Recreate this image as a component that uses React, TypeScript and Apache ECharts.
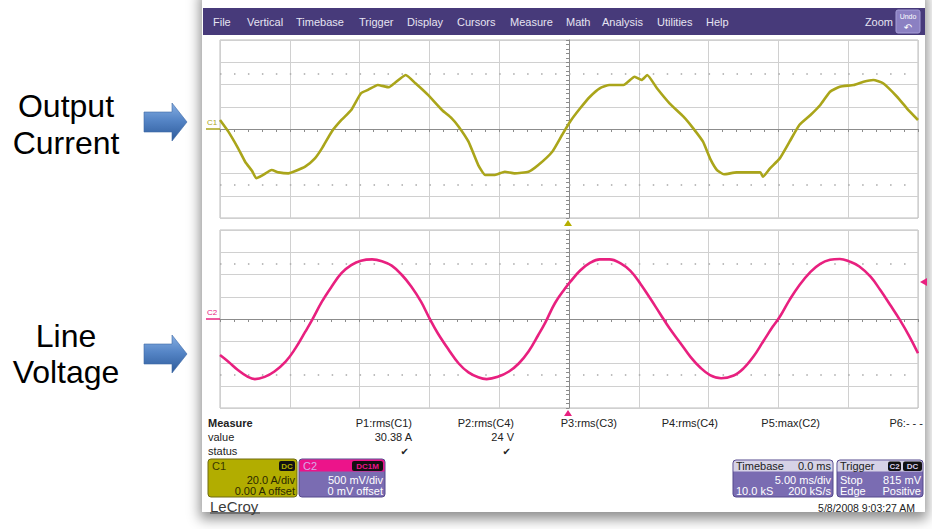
import React, { useEffect, useRef } from "react";
import * as echarts from "echarts";

// ---- data (time in ms, current in A, voltage in V) ----
const currentTime = [-25.0, -24.4, -23.7, -23.2, -22.7, -22.4, -22.0, -21.3, -20.8, -20.1, -19.6, -18.9, -18.2, -17.7, -17.0, -16.3, -15.6, -14.9, -14.4, -13.7, -12.9, -12.5, -11.7, -11.0, -10.1, -9.1, -8.4, -7.9, -7.2, -6.5, -6.0, -5.3, -4.6, -3.9, -2.9, -2.2, -1.2, -0.5, 0.1, 0.8, 1.5, 2.2, 2.9, 3.9, 4.7, 5.2, 5.6, 6.3, 7.2, 8.2, 8.9, 9.6, 10.1, 10.6, 11.1, 12.0, 13.0, 13.7, 13.9, 14.4, 15.1, 15.8, 16.5, 17.3, 18.0, 18.7, 19.4, 20.4, 21.1, 21.8, 22.5, 23.5, 24.2, 25.0];
const currentAmps = [8.1, -2.4, -17.4, -29.4, -37.8, -44.3, -42.0, -36.9, -39.0, -39.9, -37.8, -33.9, -26.4, -17.4, -2.4, 8.1, 17.1, 32.1, 35.1, 39.6, 37.5, 41.1, 48.5, 41.1, 30.6, 17.1, 9.6, 2.1, -11.4, -32.4, -41.3, -41.3, -38.4, -39.9, -38.4, -32.4, -20.4, -5.4, 7.0, 18.6, 29.0, 36.6, 39.6, 39.6, 47.0, 44.0, 48.5, 36.6, 23.1, 11.1, 0.6, -11.4, -26.4, -36.9, -40.7, -39.0, -39.0, -39.0, -42.9, -35.4, -26.4, -11.4, 3.6, 12.6, 21.6, 33.5, 38.0, 39.6, 42.5, 44.0, 41.1, 29.0, 18.6, 8.1];

const voltageTime = [-25.0, -24.4, -23.7, -23.0, -22.5, -21.8, -21.1, -20.3, -19.6, -18.9, -18.4, -17.7, -17.0, -16.3, -15.6, -14.9, -14.1, -13.4, -12.7, -12.0, -11.3, -10.6, -10.0, -9.4, -8.6, -7.9, -7.2, -6.5, -5.9, -5.1, -4.3, -3.6, -2.9, -2.2, -1.7, -1.0, -0.3, 0.1, 0.8, 1.5, 2.2, 2.9, 3.7, 4.4, 5.1, 5.8, 6.5, 7.2, 8.0, 8.7, 9.4, 10.1, 10.9, 11.8, 12.5, 13.2, 13.9, 14.6, 15.1, 15.8, 16.5, 17.3, 18.0, 18.7, 19.4, 20.1, 20.8, 21.6, 22.3, 23.0, 23.7, 24.4, 25.0];
const voltageVolts = [-0.81, -0.96, -1.15, -1.30, -1.35, -1.30, -1.18, -0.96, -0.66, -0.29, -0.02, 0.39, 0.73, 1.03, 1.21, 1.31, 1.34, 1.30, 1.20, 1.00, 0.73, 0.39, 0.02, -0.32, -0.70, -1.00, -1.20, -1.31, -1.35, -1.30, -1.18, -1.00, -0.73, -0.36, -0.08, 0.36, 0.68, 0.84, 1.09, 1.26, 1.34, 1.34, 1.25, 1.08, 0.80, 0.47, 0.13, -0.21, -0.55, -0.85, -1.09, -1.26, -1.33, -1.27, -1.11, -0.85, -0.51, -0.17, 0.05, 0.43, 0.76, 1.06, 1.24, 1.33, 1.35, 1.29, 1.18, 0.95, 0.65, 0.32, -0.02, -0.40, -0.77];

// axis scales (per division)
const timeRange = [-25, 25];
const timeDiv = 5;
const currentRange = [-80, 80];
const currentDiv = 20;
const voltageRange = [-2, 2];
const voltageDiv = 0.5;

// texts
const menuItems = ["File", "Vertical", "Timebase", "Trigger", "Display", "Cursors", "Measure", "Math", "Analysis", "Utilities", "Help"];
const measureHeaders = ["P1:rms(C1)", "P2:rms(C4)", "P3:rms(C3)", "P4:rms(C4)", "P5:max(C2)", "P6:- - -"];
const measureValues = ["30.38 A", "24 V", "", "", "", ""];
const measureStatus = [true, true, false, false, false, false];

const FONT = '"Liberation Sans", Arial, Helvetica, sans-serif';
const YEL = "#aaa51a";
const PINK = "#e8207f";
const PURPLE = "#7a6cb2";

function txt(x: number, y: number, text: string, opts: any = {}) {
  const align = opts.align || "left";
  return {
    type: "text",
    x,
    y,
    z: 50,
    silent: true,
    style: {
      text,
      fill: opts.fill || "#222",
      fontSize: opts.size || 11,
      fontFamily: opts.family || FONT,
      fontWeight: opts.weight || "normal",
      align,
      textAlign: align,
      verticalAlign: "middle",
      textVerticalAlign: "middle",
    },
  };
}
function rect(x: number, y: number, w: number, h: number, style: any, r: any = 0) {
  return { type: "rect", z: 40, silent: true, shape: { x, y, width: w, height: h, r }, style };
}

function buildGraphics() {
  const els: any[] = [];
  // left labels
  els.push(txt(66, 106, "Output", { size: 32, align: "center", fill: "#000" }));
  els.push(txt(66, 143, "Current", { size: 32, align: "center", fill: "#000" }));
  els.push(txt(66, 336, "Line", { size: 32, align: "center", fill: "#000" }));
  els.push(txt(66, 372, "Voltage", { size: 32, align: "center", fill: "#000" }));
  const arrowFill = {
    type: "linear", x: 0, y: 0, x2: 0, y2: 1,
    colorStops: [
      { offset: 0, color: "#86aee2" },
      { offset: 0.45, color: "#5585c6" },
      { offset: 1, color: "#2d5a9a" },
    ],
  };
  [122, 354].forEach((cy) => {
    els.push({
      type: "polygon", z: 40, silent: true,
      shape: { points: [[144, cy - 10], [172, cy - 10], [172, cy - 19], [187, cy], [172, cy + 19], [172, cy + 10], [144, cy + 10]] },
      style: { fill: arrowFill, stroke: "#3d68a6", lineWidth: 0.6 },
    });
  });

  // menu bar
  els.push(rect(203, 8, 722, 27, { fill: "#473a7a" }));
  const menuX = [213, 247, 296, 359, 407, 457, 510, 566, 602, 657, 706];
  menuItems.forEach((m, i) => els.push(txt(menuX[i], 22, m, { fill: "#e6e4f2" })));
  els.push(txt(893, 22, "Zoom", { fill: "#e6e4f2", align: "right" }));
  els.push(rect(896, 10, 24, 23, { fill: "#8b80c2", stroke: "#a69ed8", lineWidth: 1 }, 2));
  els.push(txt(908, 16, "Undo", { fill: "#fff", size: 7, align: "center" }));
  els.push(txt(908, 27, "↶", { fill: "#fff", size: 10, align: "center", family: "DejaVu Sans" }));

  // channel labels
  els.push(txt(207, 122, "C1", { fill: YEL, size: 8 }));
  els.push({ type: "line", z: 40, silent: true, shape: { x1: 206, y1: 129, x2: 220, y2: 129 }, style: { stroke: YEL, lineWidth: 1.5 } });
  els.push(txt(207, 312, "C2", { fill: PINK, size: 8 }));
  els.push({ type: "line", z: 40, silent: true, shape: { x1: 206, y1: 319, x2: 220, y2: 319 }, style: { stroke: PINK, lineWidth: 1.5 } });

  // markers
  els.push({ type: "polygon", z: 40, silent: true, shape: { points: [[564, 226], [572, 226], [568, 220]] }, style: { fill: "#b5ae00" } });
  els.push({ type: "polygon", z: 40, silent: true, shape: { points: [[564, 416], [572, 416], [568, 410]] }, style: { fill: PINK } });
  els.push({ type: "polygon", z: 40, silent: true, shape: { points: [[920, 282], [927, 278], [927, 286]] }, style: { fill: PINK } });

  // measure table
  els.push(txt(208, 423, "Measure", { weight: "bold" }));
  els.push(txt(208, 437, "value"));
  els.push(txt(208, 451, "status"));
  const colX = [412, 514, 617, 718, 820, 923];
  measureHeaders.forEach((h, i) => {
    els.push(txt(colX[i], 423, h, { align: "right" }));
    if (measureValues[i]) els.push(txt(colX[i], 437, measureValues[i], { align: "right" }));
    if (measureStatus[i]) els.push(txt(colX[i] - 3, 451, "✔", { align: "right", size: 10, family: "DejaVu Sans" }));
  });

  // C1 box
  els.push(rect(208, 459, 89, 38, { fill: "#b2ad00", stroke: "#6e6a10", lineWidth: 1 }, 3));
  els.push(txt(212, 466, "C1", { fill: "#3a3800" }));
  els.push(rect(279, 461, 16, 10, { fill: "#111" }, 2));
  els.push(txt(287, 466, "DC", { fill: "#b2ad00", size: 8, align: "center", weight: "bold" }));
  els.push(txt(295, 480, "20.0 A/div", { fill: "#2c2a00", align: "right" }));
  els.push(txt(295, 491, "0.00 A offset", { fill: "#2c2a00", align: "right" }));

  // C2 box
  els.push(rect(299, 459, 86, 38, { fill: PURPLE, stroke: "#55488c", lineWidth: 1 }, 3));
  els.push(rect(299.5, 459.5, 85, 12, { fill: "#ec148a" }, [3, 3, 0, 0]));
  els.push(txt(303, 466, "C2", { fill: "#d8a8e8" }));
  els.push(rect(352, 461, 31, 10, { fill: "#111" }, 2));
  els.push(txt(367.5, 466, "DC1M", { fill: "#ec148a", size: 8, align: "center", weight: "bold" }));
  els.push(txt(383, 480, "500 mV/div", { fill: "#fff", align: "right" }));
  els.push(txt(383, 491, "0 mV offset", { fill: "#fff", align: "right" }));

  // LeCroy
  els.push(txt(210, 506, "LeCroy", { fill: "#3c3c3c", size: 15 }));
  els.push({ type: "line", z: 40, silent: true, shape: { x1: 210, y1: 513, x2: 260, y2: 513 }, style: { stroke: "#3c3c3c", lineWidth: 1 } });

  // Timebase box
  els.push(rect(733, 460, 100, 37, { fill: PURPLE, stroke: "#55488c", lineWidth: 1 }, 3));
  els.push(rect(733.5, 460.5, 99, 11, { fill: "#d6d2e6" }, [3, 3, 0, 0]));
  els.push(txt(736, 466, "Timebase", { fill: "#222" }));
  els.push(txt(831, 466, "0.0 ms", { fill: "#222", align: "right" }));
  els.push(txt(831, 480, "5.00 ms/div", { fill: "#fff", align: "right" }));
  els.push(txt(736, 491, "10.0 kS", { fill: "#fff" }));
  els.push(txt(831, 491, "200 kS/s", { fill: "#fff", align: "right" }));

  // Trigger box
  els.push(rect(837, 460, 86, 37, { fill: PURPLE, stroke: "#55488c", lineWidth: 1 }, 3));
  els.push(rect(837.5, 460.5, 85, 11, { fill: "#d6d2e6" }, [3, 3, 0, 0]));
  els.push(txt(840, 466, "Trigger", { fill: "#222" }));
  els.push(rect(888, 461.5, 13, 9.5, { fill: "#111" }, 2));
  els.push(txt(894.5, 466, "C2", { fill: "#d8d0ee", size: 8, align: "center", weight: "bold" }));
  els.push(rect(903, 461.5, 19, 9.5, { fill: "#111" }, 2));
  els.push(txt(912.5, 466, "DC", { fill: "#d8d0ee", size: 8, align: "center", weight: "bold" }));
  els.push(txt(840, 480, "Stop", { fill: "#fff" }));
  els.push(txt(921, 480, "815 mV", { fill: "#fff", align: "right" }));
  els.push(txt(840, 491, "Edge", { fill: "#fff" }));
  els.push(txt(921, 491, "Positive", { fill: "#fff", align: "right" }));

  els.push(txt(915, 508, "5/8/2008 9:03:27 AM", { fill: "#222", size: 10.5, align: "right" }));
  return els;
}

function xAxisFor(i: number) {
  return {
    type: "value",
    gridIndex: i,
    min: timeRange[0],
    max: timeRange[1],
    interval: timeDiv,
    axisLabel: { show: false },
    axisLine: { show: true, onZero: true, lineStyle: { color: "#8c8c8c", width: 1 } },
    axisTick: { show: true, length: 3, lineStyle: { color: "#8c8c8c" } },
    minorTick: { show: true, splitNumber: 5, length: 3, lineStyle: { color: "#8c8c8c" } },
    splitLine: { show: true, lineStyle: { color: "#d0d0d0", width: 1 } },
  };
}
function yAxisFor(i: number, range: number[], div: number) {
  return {
    type: "value",
    gridIndex: i,
    min: range[0],
    max: range[1],
    interval: div,
    axisLabel: { show: false },
    axisLine: { show: true, onZero: true, lineStyle: { color: "#8c8c8c", width: 1 } },
    axisTick: { show: true, length: 3, lineStyle: { color: "#8c8c8c" } },
    minorTick: { show: true, splitNumber: 5, length: 3, lineStyle: { color: "#8c8c8c" } },
    splitLine: { show: true, lineStyle: { color: "#d0d0d0", width: 1 } },
  };
}

function dotRow(v: number) {
  return {
    silent: true,
    symbol: "none",
    label: { show: false },
    emphasis: { disabled: true },
    lineStyle: { color: "#a8a8a8", type: [1.5, 12.46], width: 1.5 },
    data: [{ yAxis: v }, { yAxis: -v }],
  };
}

export default function App() {
  const ref = useRef<HTMLDivElement>(null);
  useEffect(() => {
    if (!ref.current) return;
    const chart = echarts.init(ref.current, undefined, { renderer: "svg" });
    const option: any = {
      animation: false,
      backgroundColor: "transparent",
      grid: [
        { left: 220, top: 40, width: 698, height: 178, show: true, borderColor: "#bcbcbc", borderWidth: 1, backgroundColor: "transparent" },
        { left: 220, top: 230, width: 698, height: 178, show: true, borderColor: "#bcbcbc", borderWidth: 1, backgroundColor: "transparent" },
      ],
      xAxis: [xAxisFor(0), xAxisFor(1)],
      yAxis: [yAxisFor(0, currentRange, currentDiv), yAxisFor(1, voltageRange, voltageDiv)],
      series: [
        {
          name: "Output Current",
          type: "line",
          xAxisIndex: 0,
          yAxisIndex: 0,
          data: currentTime.map((t, i) => [t, currentAmps[i]]),
          showSymbol: false,
          smooth: 0.15,
          z: 5,
          lineStyle: { color: YEL, width: 2.6 },
          markLine: dotRow(2.5 * currentDiv),
        },
        {
          name: "Line Voltage",
          type: "line",
          xAxisIndex: 1,
          yAxisIndex: 1,
          data: voltageTime.map((t, i) => [t, voltageVolts[i]]),
          showSymbol: false,
          smooth: 0.4,
          z: 5,
          lineStyle: { color: PINK, width: 2.6 },
          markLine: dotRow(2.5 * voltageDiv),
        },
      ],
      graphic: { elements: buildGraphics() },
    };
    chart.setOption(option);
    return () => chart.dispose();
  }, []);

  return (
    <div style={{ position: "fixed", left: 0, top: 0, width: 932, height: 529, background: "#fff", overflow: "hidden" }}>
      <div
        style={{
          position: "absolute",
          left: 202,
          top: -10,
          width: 723,
          height: 522,
          background: "#fff",
          boxShadow: "0 5px 12px 2px rgba(0,0,0,0.45)",
        }}
      />
      <div ref={ref} style={{ position: "absolute", left: 0, top: 0, width: 932, height: 529 }} />
    </div>
  );
}
